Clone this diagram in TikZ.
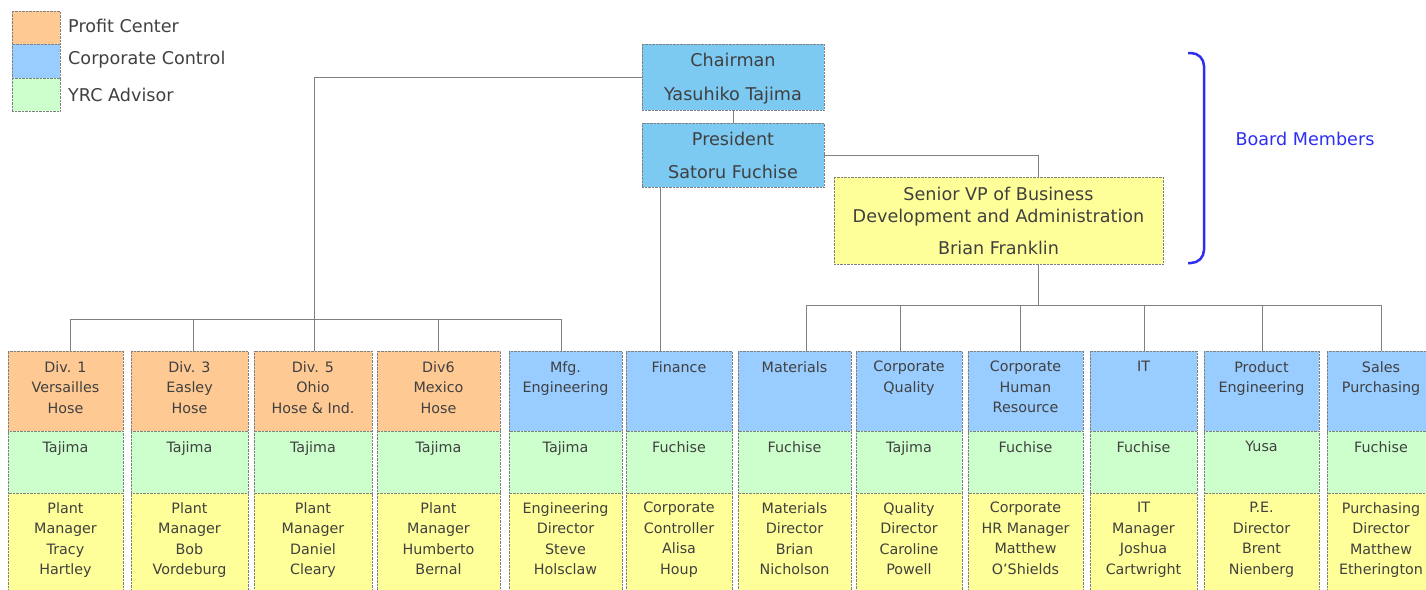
\documentclass[tikz,border=0pt]{standalone}
\usepackage{fontspec}
\setmainfont{DejaVu Sans}
\definecolor{profit}{HTML}{FFC993}
\definecolor{ctrl}{HTML}{99CCFF}
\definecolor{board}{HTML}{7CC9F2}
\definecolor{advisor}{HTML}{CCFFCC}
\definecolor{staff}{HTML}{FFFF99}
\definecolor{ink}{HTML}{404040}
\definecolor{boardblue}{HTML}{2E2EF2}

\begin{document}
\begin{tikzpicture}[x=1pt, y=-1pt,
  every node/.style={text=ink},
  cell/.style={draw=gray, densely dotted, inner sep=0pt, outer sep=0pt, anchor=north west},
  celltext/.style={align=center, anchor=north, inner sep=0pt, font=\fontsize{14.3}{20.5}\selectfont},
  headtext/.style={align=center, font=\fontsize{17.6}{22}\selectfont},
  wire/.style={draw=gray, line width=0.9pt}]
\useasboundingbox (0,0) rectangle (1426,589);

\node[cell, fill=profit, minimum width=48, minimum height=33] (keyprofit) at (12,11) {};
\node[cell, fill=ctrl, minimum width=48, minimum height=34] (keyctrl) at (12,44) {};
\node[cell, fill=advisor, minimum width=48, minimum height=33] (keyadv) at (12,78) {};
\node[headtext, anchor=west, inner sep=0pt] (keyprofitname) at (68,26) {Profit Center};
\node[headtext, anchor=west, inner sep=0pt] (keyctrlname) at (68,60) {Corporate Control};
\node[headtext, anchor=west, inner sep=0pt] (keyadvname) at (68,95) {YRC Advisor};

\node[cell, headtext, text depth=0pt, fill=board, minimum width=182, minimum height=66] (chair) at (642,44) {Chairman\\[12pt]Yasuhiko Tajima};
\node[cell, headtext, text depth=0pt, fill=board, minimum width=182, minimum height=64] (pres) at (642,123) {President\\[11pt]Satoru Fuchise};
\node[cell, headtext, text depth=0pt, fill=staff, minimum width=329, minimum height=87] (svp) at (834,177) {Senior VP of Business\\Development and Administration\\[10pt]Brian Franklin};

\node[headtext, text=boardblue] (boardname) at (1305,139) {Board Members};
\draw[boardblue, line width=2.5pt, rounded corners=13pt] (1188,53) -- (1204,53) -- (1204,263) -- (1188,263);

\foreach \x/\w/\fc/\dept/\adv/\mgr [count=\i] in {
  8/115/profit/{Div. 1\\Versailles\\Hose}/Tajima/{Plant\\Manager\\Tracy\\Hartley},
  131/117/profit/{Div. 3\\Easley\\Hose}/Tajima/{Plant\\Manager\\Bob\\Vordeburg},
  254/118/profit/{Div. 5\\Ohio\\Hose \& Ind.}/Tajima/{Plant\\Manager\\Daniel\\Cleary},
  377/123/profit/{Div6\\Mexico\\Hose}/Tajima/{Plant\\Manager\\Humberto\\Bernal},
  509/113/ctrl/{Mfg.\\Engineering}/Tajima/{Engineering\\Director\\Steve\\Holsclaw},
  626/106/ctrl/{Finance}/Fuchise/{Corporate\\Controller\\Alisa\\Houp},
  738/113/ctrl/{Materials}/Fuchise/{Materials\\Director\\Brian\\Nicholson},
  856/106/ctrl/{Corporate\\Quality}/Tajima/{Quality\\Director\\Caroline\\Powell},
  968/115/ctrl/{Corporate\\Human\\Resource}/Fuchise/{Corporate\\HR Manager\\Matthew\\O’Shields},
  1090/107/ctrl/{IT}/Fuchise/{IT\\Manager\\Joshua\\Cartwright},
  1204/115/ctrl/{Product\\Engineering}/Yusa/{P.E.\\Director\\Brent\\Nienberg},
  1327/108/ctrl/{Sales\\Purchasing}/Fuchise/{Purchasing\\Director\\Matthew\\Etherington}}
{
  \node[cell, fill=\fc, minimum width=\w, minimum height=80] (dept\i) at (\x,351) {};
  \node[cell, fill=advisor, minimum width=\w, minimum height=62] (adv\i) at (\x,431) {};
  \node[cell, fill=staff, minimum width=\w, minimum height=100] (head\i) at (\x,493) {};
  \node[celltext] (deptname\i) at ([yshift=-10pt]dept\i.north) {\dept};
  \node[celltext] (advname\i) at ([yshift=-10pt]adv\i.north) {\adv};
  \node[celltext] (headname\i) at ([yshift=-9pt]head\i.north) {\mgr};
}

\coordinate (leftfork) at (314,319);
\coordinate (rightfork) at (1038,305);
\draw[wire] (chair.south) -- (pres.north);
\draw[wire] (chair.west) -| (leftfork);
\foreach \i/\dx in {1/5, 2/4, 3/1, 4/0, 5/-4}
  \draw[wire] ([xshift=\dx]dept\i.north) |- (leftfork);
\draw[wire] ([xshift=18pt]pres.south west) -- ([xshift=18pt]pres.south west |- dept6.north);
\draw[wire] (pres.east) -| (svp.north -| rightfork);
\draw[wire] (svp.south -| rightfork) -- (rightfork);
\foreach \i/\dx in {7/12, 8/-9, 9/-5, 10/1, 11/1, 12/0}
  \draw[wire] ([xshift=\dx]dept\i.north) |- (rightfork);
\end{tikzpicture}
\end{document}
